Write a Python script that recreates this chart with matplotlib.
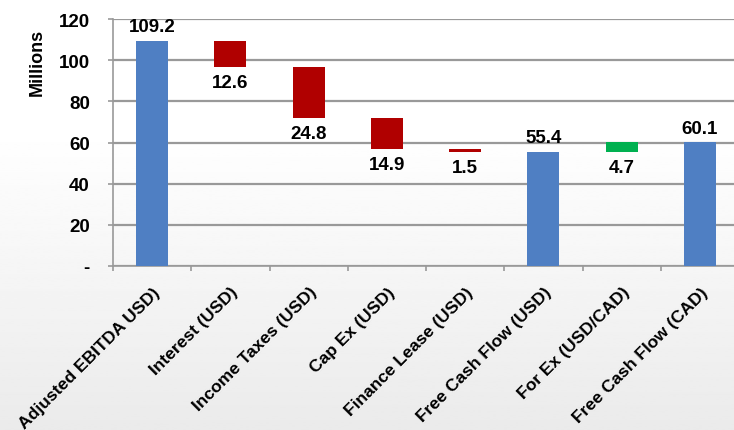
import numpy as np
import matplotlib
matplotlib.use("Agg")
import matplotlib.pyplot as plt

# Waterfall data (millions)
categories = ["Adjusted EBITDA USD)", "Interest (USD)", "Income Taxes (USD)",
              "Cap Ex (USD)", "Finance Lease (USD)", "Free Cash Flow (USD)",
              "For Ex (USD/CAD)", "Free Cash Flow (CAD)"]
values = [109.2, -12.6, -24.8, -14.9, -1.5, 55.4, 4.7, 60.1]
kinds = ["total", "down", "down", "down", "down", "total", "up", "total"]
labels = ["109.2", "12.6", "24.8", "14.9", "1.5", "55.4", "4.7", "60.1"]
yticks = [0, 20, 40, 60, 80, 100, 120]
ytick_labels = ["-", "20", "40", "60", "80", "100", "120"]

colors = {"total": "#4F7FC3", "down": "#B00000", "up": "#00B050"}

plt.rcParams['font.family'] = ['Liberation Sans', 'DejaVu Sans']
plt.rcParams['font.weight'] = 'bold'

fig = plt.figure(figsize=(7.34, 4.31), dpi=100)

# faint background shading toward the bottom
bg = fig.add_axes([0, 0, 1, 1], zorder=-10)
grad = np.linspace(0, 1, 200).reshape(-1, 1)
grad = np.clip((grad - 0.3) / 0.7, 0, 1)
bg.imshow(1 - 0.08 * grad, cmap="gray", vmin=0, vmax=1, aspect="auto",
          extent=[0, 1, 0, 1], origin="upper")
bg.set_xlim(0, 1)
bg.set_ylim(0, 1)
bg.axis("off")

ax = fig.add_axes([113 / 734, 1 - 267 / 431, 626 / 734, 247 / 431])
ax.set_facecolor("none")

x = np.arange(len(categories))
running = 0.0
bottoms, heights = [], []
for v, k in zip(values, kinds):
    if k == "total":
        bottoms.append(0)
        heights.append(v)
        running = v
    else:
        new = running + v
        bottoms.append(min(running, new))
        heights.append(abs(v))
        running = new

ax.bar(x, heights, bottom=bottoms, width=0.41,
       color=[colors[k] for k in kinds], zorder=3)

for xi, b, h, k, lab in zip(x, bottoms, heights, kinds, labels):
    if k == "total":
        ax.text(xi, b + h + 2.8, lab, ha="center", va="bottom",
                fontsize=13.5, fontweight="bold", zorder=4)
    else:
        ax.text(xi, b - 3.5, lab, ha="center", va="top",
                fontsize=13.5, fontweight="bold", zorder=4)

ax.set_xlim(-0.5, len(categories) - 0.5)
ax.set_ylim(0, 120)
ax.set_yticks(yticks)
ax.set_yticklabels(ytick_labels, fontsize=13.5, fontweight="bold")
ax.yaxis.grid(True, color="#999999", linewidth=1.6, zorder=0)
ax.set_axisbelow(True)

ax.set_xticks(x)
ax.set_xticklabels(categories, rotation=45, ha="right", rotation_mode="anchor",
                   fontsize=12.6, fontweight="bold")
ax.set_xticks(np.arange(len(categories) + 1) - 0.5, minor=True)
ax.tick_params(axis="x", which="major", length=0, pad=13)
ax.tick_params(axis="x", which="minor", length=3.6, color="#999999", width=1.2)
ax.tick_params(axis="y", length=3.6, color="#999999", width=1.2, pad=13)

for s in ["top", "right"]:
    ax.spines[s].set_visible(False)
for s in ["left", "bottom"]:
    ax.spines[s].set_color("#999999")
    ax.spines[s].set_linewidth(1.2)

ax.set_ylabel("Millions", fontsize=13, fontweight="bold")
ax.yaxis.set_label_coords(-0.108, 0.83)

fig.savefig("out.png", dpi=100)
